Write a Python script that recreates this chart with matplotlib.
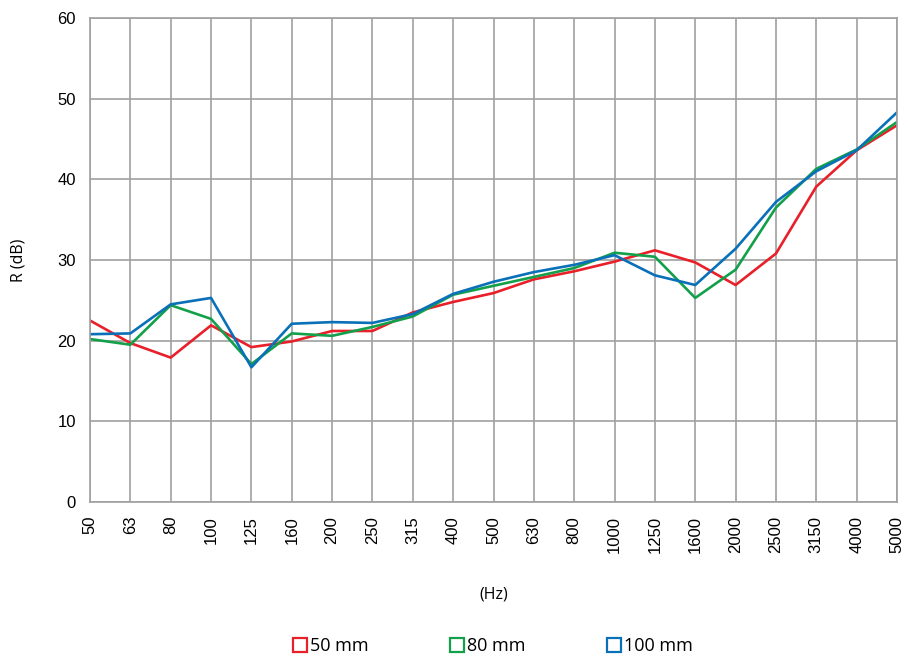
import matplotlib
matplotlib.use("Agg")
from matplotlib import pyplot as plt
from matplotlib.lines import Line2D

freqs = ["50", "63", "80", "100", "125", "160", "200", "250", "315", "400", "500",
         "630", "800", "1000", "1250", "1600", "2000", "2500", "3150", "4000", "5000"]

r_50mm = [22.5, 19.7, 17.9, 21.9, 19.2, 19.9, 21.2, 21.2, 23.5, 24.8, 25.9,
          27.6, 28.6, 29.8, 31.2, 29.7, 26.9, 30.8, 39.1, 43.6, 46.7]
r_80mm = [20.2, 19.5, 24.4, 22.7, 17.1, 20.9, 20.6, 21.7, 23.0, 25.7, 26.8,
          27.9, 29.0, 30.9, 30.4, 25.3, 28.8, 36.5, 41.3, 43.7, 47.1]
r_100mm = [20.8, 20.9, 24.5, 25.3, 16.7, 22.1, 22.3, 22.2, 23.3, 25.8, 27.3,
           28.5, 29.4, 30.6, 28.1, 26.9, 31.4, 37.2, 41.0, 43.6, 48.3]

labels = ["50 mm", "80 mm", "100 mm"]
colors = ["#e8202a", "#13a04a", "#0a70b8"]

plt.rcParams["font.family"] = ["Open Sans", "DejaVu Sans"]

fig = plt.figure(figsize=(9.1, 6.57), dpi=100)
ax = fig.add_axes([90 / 910, 1 - 502 / 657, 807 / 910, 484 / 657])

x = list(range(len(freqs)))
for series, col in zip([r_50mm, r_80mm, r_100mm], colors):
    ax.plot(x, series, color=col, linewidth=1.9)

ax.set_xlim(0, len(freqs) - 1)
ax.set_ylim(0, 60)
ax.set_xticks(x)
ax.set_xticklabels(freqs, rotation=90, fontsize=12, family="Liberation Sans")
ax.set_yticks(range(0, 61, 10))
ax.set_yticklabels([str(v) for v in range(0, 61, 10)], fontsize=12,
                   family="Liberation Sans")
ax.tick_params(length=0, pad=10)
ax.grid(True, color="#a0a0a0", linewidth=1.2)
ax.set_axisbelow(True)
for sp in ax.spines.values():
    sp.set_color("#a0a0a0")
    sp.set_linewidth(1.2)

ax.set_ylabel("R (dB)", fontsize=11.5, labelpad=22)
ax.set_xlabel("(Hz)", fontsize=11.5, labelpad=24)

handles = [Line2D([], [], linestyle="none", marker="s", markersize=10,
                  markerfacecolor="none", markeredgecolor=c, markeredgewidth=1.6)
           for c in colors]
fig.legend(handles, labels, loc="center", bbox_to_anchor=(492 / 910, 1 - 646 / 657),
           ncol=3, frameon=False, fontsize=13, handletextpad=0.05,
           columnspacing=4.4, handlelength=1.0)

fig.savefig("out.png", dpi=100)
